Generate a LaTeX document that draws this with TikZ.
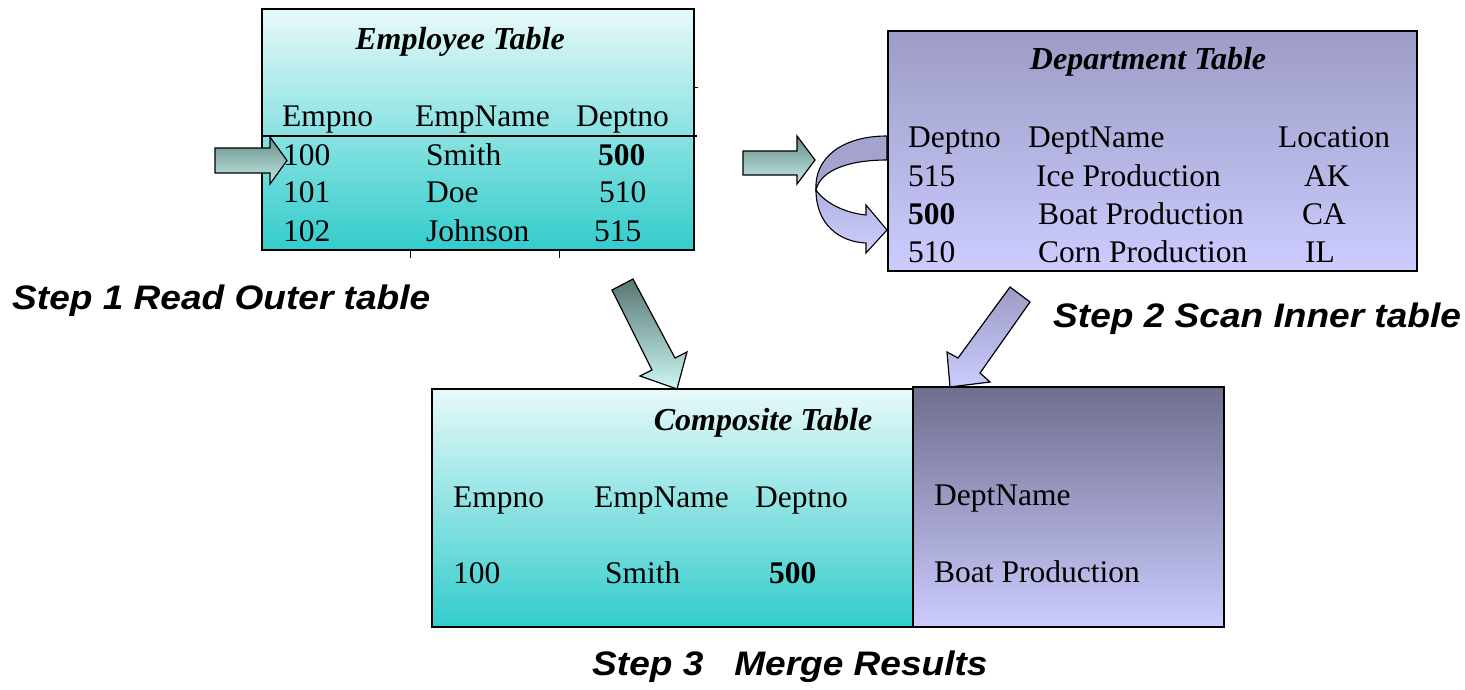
\documentclass[tikz,border=0pt]{standalone}
\usepackage{fontspec}
\setmainfont{Liberation Serif}
\newfontfamily\stepfont{Liberation Sans}
\definecolor{empTop}{RGB}{232,249,249}
\definecolor{empBot}{RGB}{51,204,204}
\definecolor{depTop}{RGB}{156,156,198}
\definecolor{depBot}{RGB}{204,204,255}
\definecolor{mrgTop}{RGB}{110,110,142}
\definecolor{arrTealTop}{RGB}{104,142,138}
\definecolor{arrTealBot}{RGB}{196,234,229}
\definecolor{arrDownTop}{RGB}{88,118,114}
\definecolor{arrDownBot}{RGB}{204,248,244}
\definecolor{bandUp}{RGB}{163,163,206}
\definecolor{bandLoTop}{RGB}{178,178,225}
\definecolor{bandLoBot}{RGB}{206,206,252}
\begin{document}
\begin{tikzpicture}[x=1pt,y=-1pt,
  tbl/.style={font=\fontsize{31.5}{31.5}\selectfont, inner sep=0pt, anchor=base west},
  ttl/.style={font=\fontsize{32}{32}\selectfont\bfseries\itshape, inner sep=0pt, anchor=base},
  steplbl/.style={font=\fontsize{34}{34}\selectfont\stepfont\bfseries\itshape, inner sep=0pt, anchor=base west},
  tablebox/.style={draw=black, line width=1.6pt, inner sep=0pt, anchor=north west},
  blockarrow/.style={draw=black, line width=1.2pt, line join=miter},
  rule/.style={draw=black, line width=1.2pt}
]
\useasboundingbox (0,0) rectangle (1465,690);

% ---------- tables ----------
\node[tablebox, top color=empTop, bottom color=empBot,
      minimum width=432pt, minimum height=241pt] (emp) at (261,8) {};
\node[tablebox, top color=depTop, bottom color=depBot,
      minimum width=529pt, minimum height=240pt] (dep) at (887,30) {};
\node[tablebox, top color=empTop, bottom color=empBot,
      minimum width=481pt, minimum height=238pt] (cmpL) at (431,388) {};
\node[tablebox, top color=mrgTop, bottom color=depBot,
      minimum width=311pt, minimum height=240pt] (cmpR) at (912,386) {};

% employee table rule and grid stubs
\coordinate (ruleA) at (263,136);
\coordinate (ruleB) at (697,136);
\draw[rule] (ruleA) -- (ruleB);
\coordinate (tkA1) at (410,250); \coordinate (tkA2) at (410,258);
\coordinate (tkB1) at (559,250); \coordinate (tkB2) at (559,258);
\coordinate (tkC1) at (693,88);  \coordinate (tkC2) at (698,88);
\draw[line width=1pt] (tkA1) -- (tkA2);
\draw[line width=1pt] (tkB1) -- (tkB2);
\draw[line width=1pt] (tkC1) -- (tkC2);

% ---------- employee table text ----------
\node[ttl] (empT) at (460,50) {Employee Table};
\node[tbl] (e00) at (282,127) {Empno};
\node[tbl] (e01) at (415,127) {EmpName};
\node[tbl] (e02) at (576,127) {Deptno};
\node[tbl] (e10) at (283,165) {100};
\node[tbl] (e11) at (426,165) {Smith};
\node[tbl] (e12) at (598,165) {\bfseries 500};
\node[tbl] (e20) at (283,203) {101};
\node[tbl] (e21) at (426,203) {Doe};
\node[tbl] (e22) at (599,203) {510};
\node[tbl] (e30) at (283,241) {102};
\node[tbl] (e31) at (426,241) {Johnson};
\node[tbl] (e32) at (594,241) {515};

% ---------- department table text ----------
\node[ttl] (depT) at (1148,70) {Department Table};
\node[tbl] (d00) at (908,148) {Deptno};
\node[tbl] (d01) at (1028,148) {DeptName};
\node[tbl] (d02) at (1278,148) {Location};
\node[tbl] (d10) at (908,186) {515};
\node[tbl] (d11) at (1036,186) {Ice Production};
\node[tbl] (d12) at (1304,186) {AK};
\node[tbl] (d20) at (908,224) {\bfseries 500};
\node[tbl] (d21) at (1038,224) {Boat Production};
\node[tbl] (d22) at (1302,224) {CA};
\node[tbl] (d30) at (908,262) {510};
\node[tbl] (d31) at (1038,262) {Corn Production};
\node[tbl] (d32) at (1305,262) {IL};

% ---------- composite table text ----------
\node[ttl] (cmpT) at (763,430) {Composite Table};
\node[tbl] (c00) at (453,507) {Empno};
\node[tbl] (c01) at (594,507) {EmpName};
\node[tbl] (c02) at (755,507) {Deptno};
\node[tbl] (c10) at (453,583) {100};
\node[tbl] (c11) at (605,583) {Smith};
\node[tbl] (c12) at (769,583) {\bfseries 500};
\node[tbl] (c03) at (934,505) {DeptName};
\node[tbl] (c13) at (934,582) {Boat Production};

% ---------- step labels ----------
\node[steplbl] (s1) at (12,309) {\scalebox{1.09}[1]{Step 1 Read Outer table}};
\node[steplbl] (s2) at (1053,327) {\scalebox{1.09}[1]{Step 2 Scan Inner table}};
\node[steplbl] (s3) at (592,675) {\scalebox{1.09}[1]{Step 3\ \ \ Merge Results}};

% ---------- block arrows ----------
% pointer into the employee table
\path[blockarrow, top color=arrTealTop, bottom color=arrTealBot]
  (215,148) -- (270,148) -- (270,137) -- (287,160.5) -- (270,184) -- (270,173) -- (215,173) -- cycle;
% arrow towards the department table
\path[blockarrow, top color=arrTealTop, bottom color=arrTealBot]
  (743,151) -- (797,151) -- (797,136) -- (815,160) -- (797,184) -- (797,175) -- (743,175) -- cycle;
% curved scan arrow: upper band
\path[draw=black, line width=1.1pt, fill=bandUp]
  (887,136) .. controls (842,136) and (814,158) .. (816,190)
  .. controls (820,172) and (845,160) .. (887,160) -- cycle;
% curved scan arrow: lower band with head
\path[draw=black, line width=1.1pt, line join=miter, top color=bandLoTop, bottom color=bandLoBot]
  (816,190) .. controls (816,225) and (840,242) .. (866,243)
  -- (866,253) -- (887,230) -- (866,205) -- (866,215)
  .. controls (845,213) and (825,203) .. (816,190) -- cycle;
% down arrow from employee table to composite
\path[blockarrow, top color=arrDownTop, bottom color=arrDownBot]
  (612,290) -- (633,279) -- (675,358) -- (687,352) -- (677,389) -- (640,376) -- (652,370) -- cycle;
% down arrow from department table to composite
\path[blockarrow, top color=depTop, bottom color=depBot]
  (1010,287) -- (1030,302) -- (980,373) -- (990,382) -- (950,387) -- (947,352) -- (958,358) -- cycle;
\end{tikzpicture}
\end{document}
